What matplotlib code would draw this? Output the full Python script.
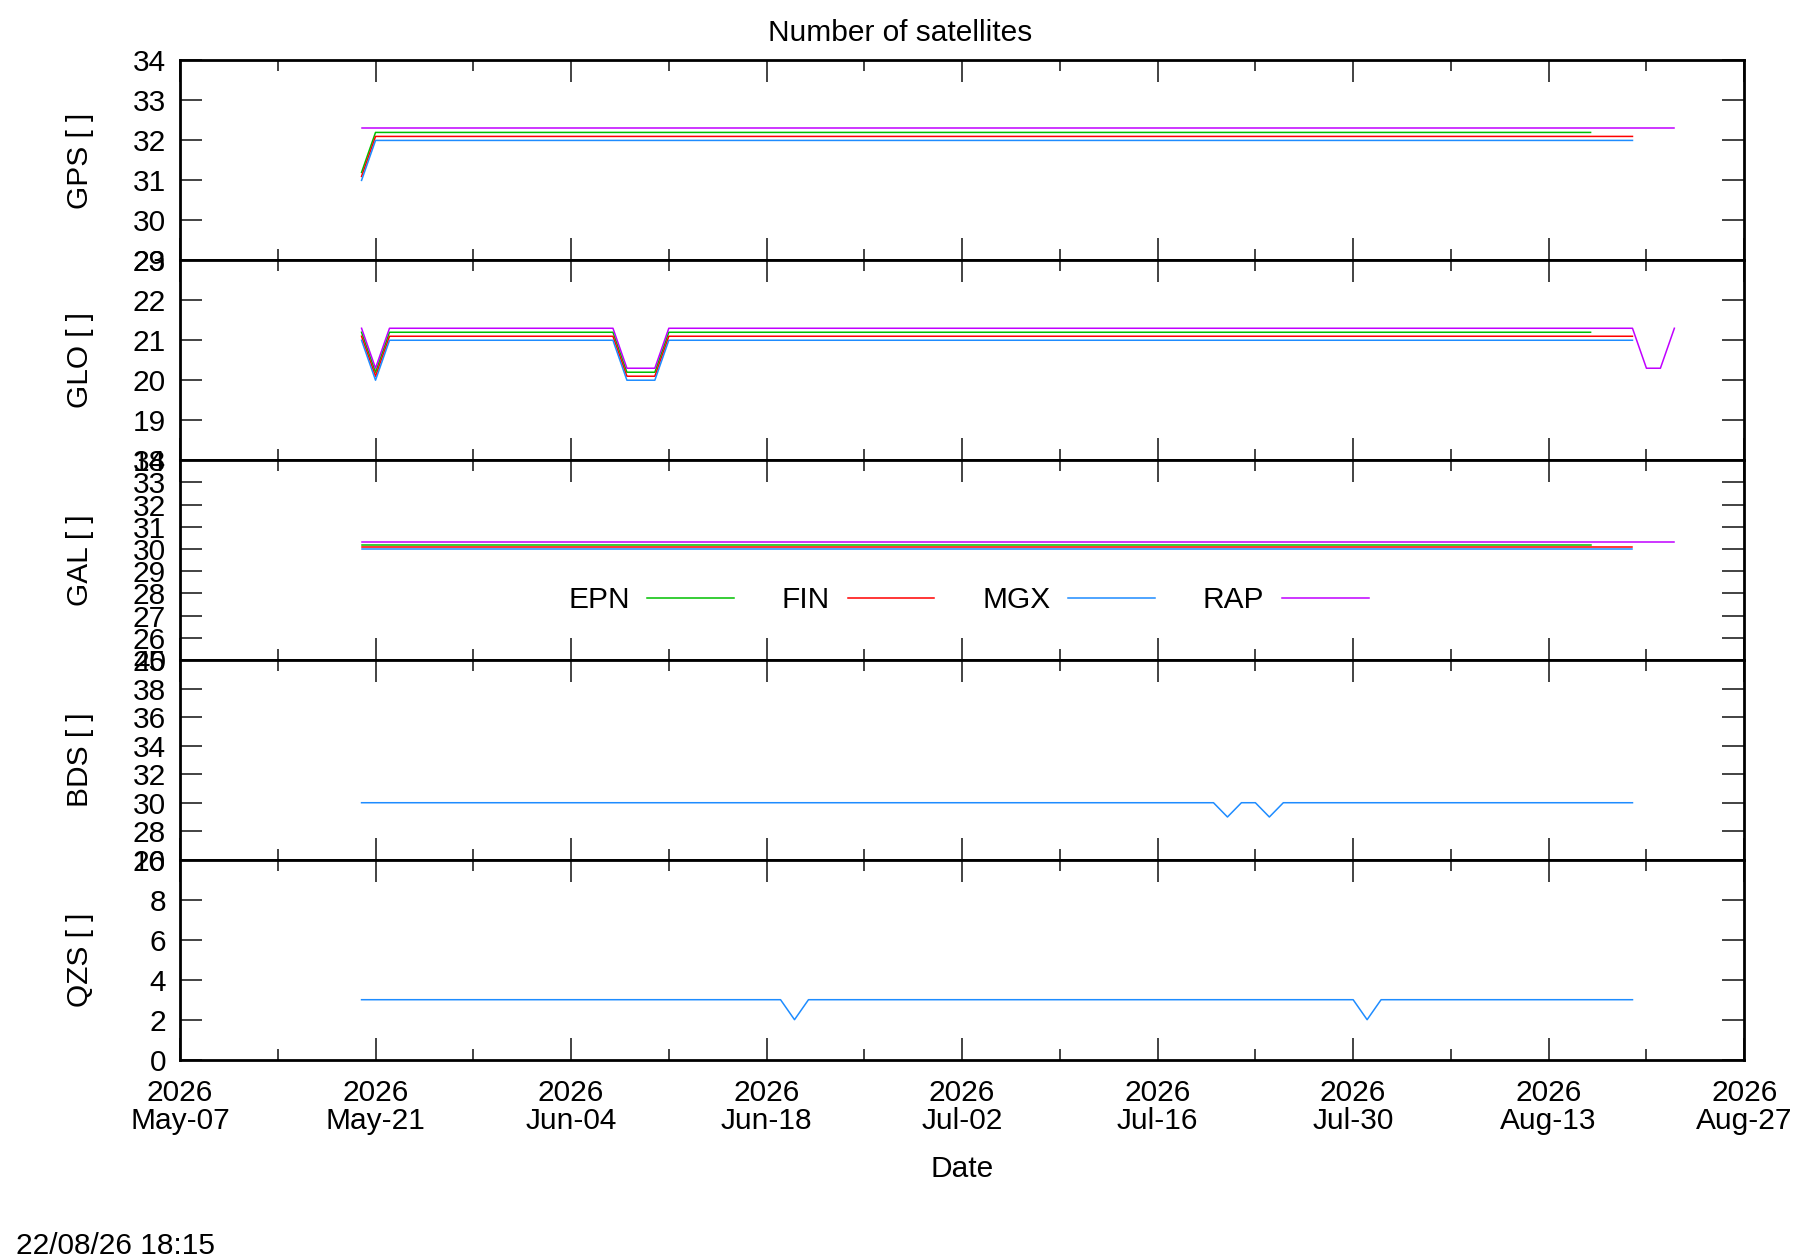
import matplotlib
matplotlib.use("Agg")
import matplotlib.pyplot as plt
import matplotlib.dates as mdates
import numpy as np
from datetime import datetime, timedelta

plt.rcParams['font.family'] = ['Liberation Sans', 'DejaVu Sans']
plt.rcParams['font.size'] = 21.5

# vertices of each daily series (points where the value changes)
GPS_EPN_DATES = ["2026-05-20", "2026-05-21", "2026-08-16"]
GPS_EPN = [31, 32, 32]
GPS_FIN_DATES = ["2026-05-20", "2026-05-21", "2026-08-19"]
GPS_FIN = [31, 32, 32]
GPS_MGX_DATES = ["2026-05-20", "2026-05-21", "2026-08-19"]
GPS_MGX = [31, 32, 32]
GPS_RAP_DATES = ["2026-05-20", "2026-08-22"]
GPS_RAP = [32, 32]

GLO_EPN_DATES = ["2026-05-20", "2026-05-21", "2026-05-22", "2026-06-07",
                 "2026-06-08", "2026-06-10", "2026-06-11", "2026-08-16"]
GLO_EPN = [21, 20, 21, 21, 20, 20, 21, 21]
GLO_FIN_DATES = ["2026-05-20", "2026-05-21", "2026-05-22", "2026-06-07",
                 "2026-06-08", "2026-06-10", "2026-06-11", "2026-08-19"]
GLO_FIN = [21, 20, 21, 21, 20, 20, 21, 21]
GLO_MGX_DATES = ["2026-05-20", "2026-05-21", "2026-05-22", "2026-06-07",
                 "2026-06-08", "2026-06-10", "2026-06-11", "2026-08-19"]
GLO_MGX = [21, 20, 21, 21, 20, 20, 21, 21]
GLO_RAP_DATES = ["2026-05-20", "2026-05-21", "2026-05-22", "2026-06-07",
                 "2026-06-08", "2026-06-10", "2026-06-11", "2026-08-19",
                 "2026-08-20", "2026-08-21", "2026-08-22"]
GLO_RAP = [21, 20, 21, 21, 20, 20, 21, 21, 20, 20, 21]

GAL_EPN_DATES = ["2026-05-20", "2026-08-16"]
GAL_EPN = [30, 30]
GAL_FIN_DATES = ["2026-05-20", "2026-08-19"]
GAL_FIN = [30, 30]
GAL_MGX_DATES = ["2026-05-20", "2026-08-19"]
GAL_MGX = [30, 30]
GAL_RAP_DATES = ["2026-05-20", "2026-08-22"]
GAL_RAP = [30, 30]

BDS_MGX_DATES = ["2026-05-20", "2026-07-20", "2026-07-21", "2026-07-22",
                 "2026-07-23", "2026-07-24", "2026-07-25", "2026-08-19"]
BDS_MGX = [30, 30, 29, 30, 30, 29, 30, 30]

QZS_MGX_DATES = ["2026-05-20", "2026-06-19", "2026-06-20", "2026-06-21",
                 "2026-07-30", "2026-07-31", "2026-08-01", "2026-08-19"]
QZS_MGX = [3, 3, 2, 3, 3, 2, 3, 3]

CENTRES = ["EPN", "FIN", "MGX", "RAP"]
COLORS = {"EPN": "#00c000", "FIN": "#ff0000", "MGX": "#1e8cff", "RAP": "#c000ff"}
OFFSETS = {"EPN": 0.2, "FIN": 0.1, "MGX": 0.0, "RAP": 0.3}

PANELS = [
    ("GPS [ ]", (29, 34), 1, {"EPN": (GPS_EPN_DATES, GPS_EPN), "FIN": (GPS_FIN_DATES, GPS_FIN),
                               "MGX": (GPS_MGX_DATES, GPS_MGX), "RAP": (GPS_RAP_DATES, GPS_RAP)}),
    ("GLO [ ]", (18, 23), 1, {"EPN": (GLO_EPN_DATES, GLO_EPN), "FIN": (GLO_FIN_DATES, GLO_FIN),
                               "MGX": (GLO_MGX_DATES, GLO_MGX), "RAP": (GLO_RAP_DATES, GLO_RAP)}),
    ("GAL [ ]", (25, 34), 1, {"EPN": (GAL_EPN_DATES, GAL_EPN), "FIN": (GAL_FIN_DATES, GAL_FIN),
                               "MGX": (GAL_MGX_DATES, GAL_MGX), "RAP": (GAL_RAP_DATES, GAL_RAP)}),
    ("BDS [ ]", (26, 40), 2, {"MGX": (BDS_MGX_DATES, BDS_MGX)}),
    ("QZS [ ]", (0, 10), 2, {"MGX": (QZS_MGX_DATES, QZS_MGX)}),
]

X_START = datetime(2026, 5, 7)
X_END = datetime(2026, 8, 27)


def to_dates(strings):
    return [datetime.strptime(s, "%Y-%m-%d") for s in strings]


fig, axes = plt.subplots(5, 1, figsize=(18, 12.6), dpi=100, sharex=True)
fig.subplots_adjust(left=0.1, right=0.969, top=0.952, bottom=0.159, hspace=0)

major = [X_START + timedelta(days=14 * i) for i in range(9)]
minor = [X_START + timedelta(days=7 + 14 * i) for i in range(8)]

handles = {}
for ax, (label, ylim, step, series) in zip(axes, PANELS):
    for c in CENTRES:
        if c not in series:
            continue
        d, v = series[c]
        line, = ax.plot(to_dates(d), np.array(v) + OFFSETS[c], color=COLORS[c], lw=1.1)
        handles[c] = line
    ax.set_ylim(*ylim)
    ax.set_yticks(np.arange(ylim[0], ylim[1] + step / 2, step))
    ax.set_xlim(X_START, X_END)
    ax.set_xticks(major)
    ax.set_xticks(minor, minor=True)
    ax.tick_params(axis="both", which="both", direction="in", top=True, right=True,
                   width=1.2, color="#222222")
    ax.tick_params(axis="x", which="major", length=16, pad=14)
    ax.tick_params(axis="x", which="minor", length=8)
    ax.tick_params(axis="y", which="major", length=16, pad=10)
    for sp in ax.spines.values():
        sp.set_linewidth(2)
    ax.set_ylabel(label)
    ax.yaxis.set_label_coords(-0.055, 0.5)

axes[-1].xaxis.set_major_formatter(mdates.DateFormatter("%Y\n%b-%d"))
for t in axes[-1].get_xticklabels():
    t.set_linespacing(1.0)
axes[-1].set_xlabel("Date", labelpad=14)

axes[2].legend([handles[c] for c in CENTRES], CENTRES, loc="center", bbox_to_anchor=(0.504, 0.30),
               ncol=4, frameon=False, markerfirst=False, handlelength=2.9,
               handletextpad=0.6, columnspacing=1.6)

fig.text(0.5, 0.974, "Number of satellites", ha="center", va="center")
fig.text(0.009, 0.011, "22/08/26 18:15", ha="left", va="center")

fig.savefig("out.png", dpi=100)
